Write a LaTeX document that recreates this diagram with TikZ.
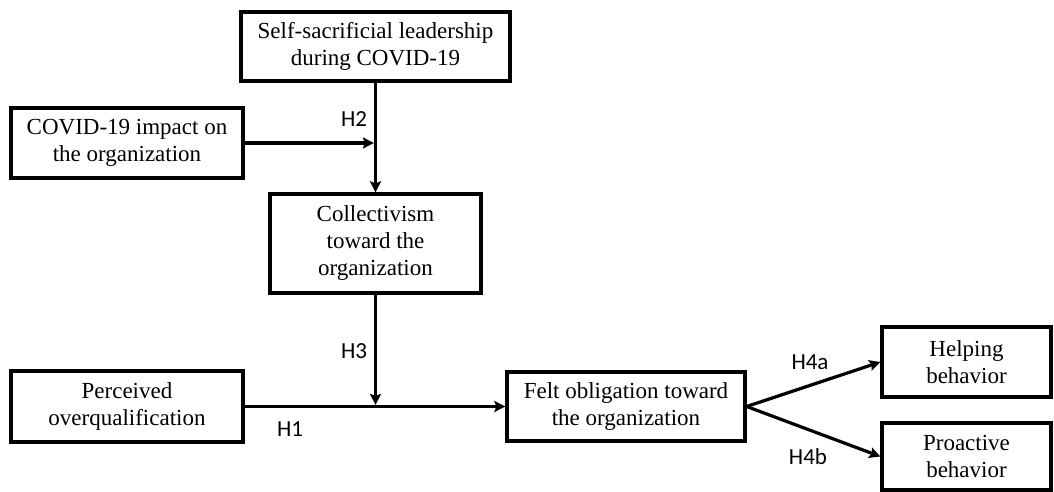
\documentclass[tikz,border=0pt]{standalone}
\usepackage{fontspec}
\setmainfont{Liberation Serif}
\newfontfamily\labfont{Carlito}
\usetikzlibrary{arrows.meta}
\begin{document}
\begin{tikzpicture}[x=1pt,y=-1pt,
  box/.style={draw=black,line width=3.3pt,align=center,inner sep=0pt,
    font=\fontsize{23}{27}\selectfont},
  conn/.style={line width=3.2pt,-{Stealth[length=11pt,width=11pt,inset=2pt]}},
  hlab/.style={font=\labfont\fontsize{23}{26}\selectfont,inner sep=0pt}]
\useasboundingbox (0,0) rectangle (1054,492);
\node[box,minimum width=269pt,minimum height=69pt] (ssl) at (375.5,46.5) {Self-sacrificial leadership\\during COVID-19};
\node[box,minimum width=232pt,minimum height=70pt] (cov) at (127,143) {COVID-19 impact on\\the organization};
\node[box,minimum width=211pt,minimum height=99pt] (col) at (375.5,243.5) {Collectivism\\toward the\\organization};
\node[box,minimum width=232pt,minimum height=71pt] (poq) at (127,406.5) {Perceived\\overqualification};
\node[box,minimum width=238pt,minimum height=69pt] (felt) at (626,406.5) {Felt obligation toward\\the organization};
\node[box,minimum width=169pt,minimum height=70pt] (help) at (966.5,362) {Helping\\behavior};
\node[box,minimum width=169pt,minimum height=67pt] (pro) at (966.5,456.5) {Proactive\\behavior};
\coordinate (j1) at (col.north |- cov.east);
\coordinate (j2) at (col.south |- poq.east);
\draw[conn] (ssl.south) -- (col.north);
\draw[conn,shorten >=1.6pt] (cov.east) -- (j1);
\draw[conn] (poq.east) -- (felt.west);
\draw[conn,shorten >=1.6pt] (col.south) -- (j2);
\draw[conn] (felt.east) -- (help.west);
\draw[conn] (felt.east) -- (pro.west);
\node[hlab] (h2) at (354,119) {H2};
\node[hlab] (h3) at (354,351) {H3};
\node[hlab] (h1) at (290,429) {H1};
\node[hlab] (h4a) at (810,362) {H4a};
\node[hlab] (h4b) at (808,457) {H4b};
\end{tikzpicture}
\end{document}
